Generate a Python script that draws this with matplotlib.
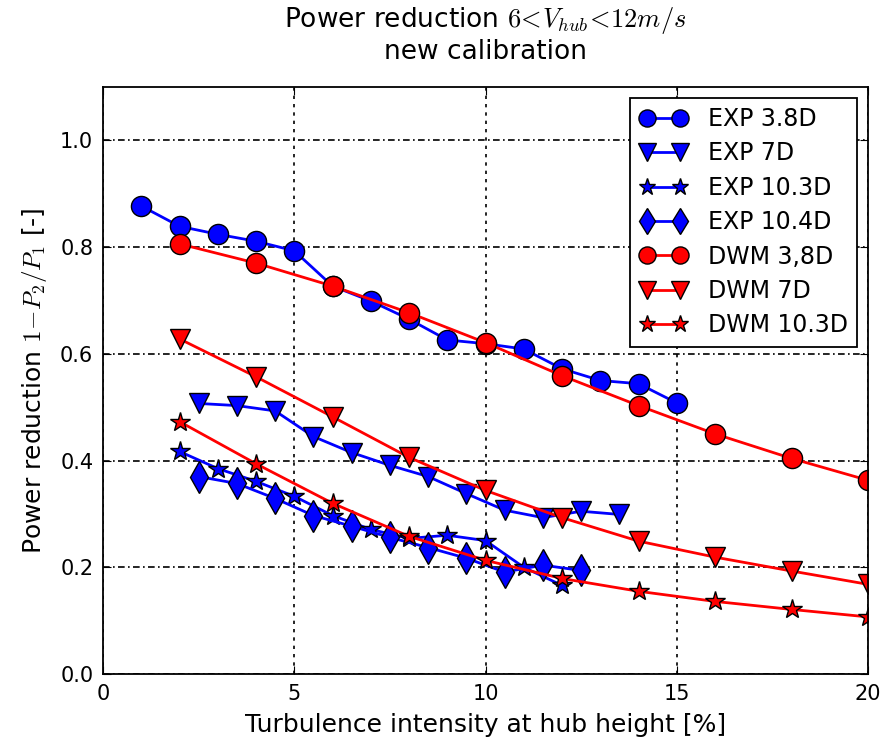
import matplotlib
matplotlib.use("Agg")
import matplotlib.pyplot as plt

plt.rcParams['mathtext.fontset'] = 'cm'
plt.rcParams['font.family'] = ['DejaVu Sans']

exp38_x = [1, 2, 3, 4, 5, 6, 7, 8, 9, 10, 11, 12, 13, 14, 15]
exp38_y = [0.877, 0.839, 0.824, 0.811, 0.793, 0.727, 0.699, 0.665, 0.626, 0.619, 0.609, 0.572, 0.550, 0.544, 0.508]

exp7_x = [2.5, 3.5, 4.5, 5.5, 6.5, 7.5, 8.5, 9.5, 10.5, 11.5, 12.5, 13.5]
exp7_y = [0.507, 0.503, 0.493, 0.445, 0.415, 0.391, 0.370, 0.338, 0.307, 0.293, 0.305, 0.299]

exp103_x = [2, 3, 4, 5, 6, 7, 8, 9, 10, 11, 12]
exp103_y = [0.417, 0.385, 0.361, 0.333, 0.297, 0.271, 0.254, 0.260, 0.250, 0.200, 0.166]

exp104_x = [2.5, 3.5, 4.5, 5.5, 6.5, 7.5, 8.5, 9.5, 10.5, 11.5, 12.5]
exp104_y = [0.370, 0.357, 0.329, 0.297, 0.277, 0.256, 0.237, 0.217, 0.191, 0.204, 0.194]

dwm_x = [2, 4, 6, 8, 10, 12, 14, 16, 18, 20]
dwm38_y = [0.806, 0.770, 0.727, 0.677, 0.621, 0.559, 0.503, 0.450, 0.404, 0.363]
dwm7_y = [0.628, 0.557, 0.482, 0.406, 0.344, 0.293, 0.249, 0.219, 0.193, 0.168]
dwm103_y = [0.473, 0.394, 0.320, 0.258, 0.213, 0.179, 0.155, 0.136, 0.121, 0.107]

labels = ['EXP 3.8D', 'EXP 7D', 'EXP 10.3D', 'EXP 10.4D', 'DWM 3,8D', 'DWM 7D', 'DWM 10.3D']

fig = plt.figure(figsize=(8.94, 7.46), dpi=100)
ax = fig.add_axes([103/894, 1-674/746, (868-103)/894, (674-87)/746])

kw = dict(lw=2, mec='black', mew=1)
ax.plot(exp38_x, exp38_y, '-o', color='blue', ms=14.5, label=labels[0], **kw)
ax.plot(exp7_x, exp7_y, '-v', color='blue', ms=14.5, label=labels[1], **kw)
ax.plot(exp103_x, exp103_y, '-*', color='blue', ms=14.5, label=labels[2], **kw)
ax.plot(exp104_x, exp104_y, '-d', color='blue', ms=16, label=labels[3], **kw)
ax.plot(dwm_x, dwm38_y, '-o', color='red', ms=14.5, label=labels[4], **kw)
ax.plot(dwm_x, dwm7_y, '-v', color='red', ms=14.5, label=labels[5], **kw)
ax.plot(dwm_x, dwm103_y, '-*', color='red', ms=14.5, label=labels[6], **kw)

ax.set_xlim(0, 20)
ax.set_ylim(0, 1.1)
ax.set_xticks([0, 5, 10, 15, 20])
ax.set_yticks([0.0, 0.2, 0.4, 0.6, 0.8, 1.0])
ax.set_yticklabels(['0.0', '0.2', '0.4', '0.6', '0.8', '1.0'])
ax.tick_params(direction='in', top=True, right=True, labelsize=15, length=6, pad=7)
ax.xaxis.grid(True, color='black', linestyle=(0, (2, 3)), lw=1.2)
ax.yaxis.grid(True, color='black', linestyle=(0, (4, 2, 1, 2)), lw=1.2)
for s in ax.spines.values():
    s.set_linewidth(1.3)

ax.set_xlabel('Turbulence intensity at hub height [%]', fontsize=18, labelpad=7)
ax.set_ylabel('Power reduction $1\\!-\\!P_2/P_1$ [-]', fontsize=18, labelpad=8)
ax.set_title('Power reduction $6\\!<\\!V_{hub}\\!<\\!12m/s$\nnew calibration', fontsize=19, pad=20,
             linespacing=1.15)

leg = ax.legend(loc='upper right', fontsize=17, numpoints=2, fancybox=False,
                framealpha=1, edgecolor='black', borderaxespad=0.45,
                handlelength=2.0, handletextpad=0.9, labelspacing=0.44,
                borderpad=0.4, markerscale=0.85)
leg.get_frame().set_linewidth(1.3)

fig.savefig('out.png', dpi=100)
